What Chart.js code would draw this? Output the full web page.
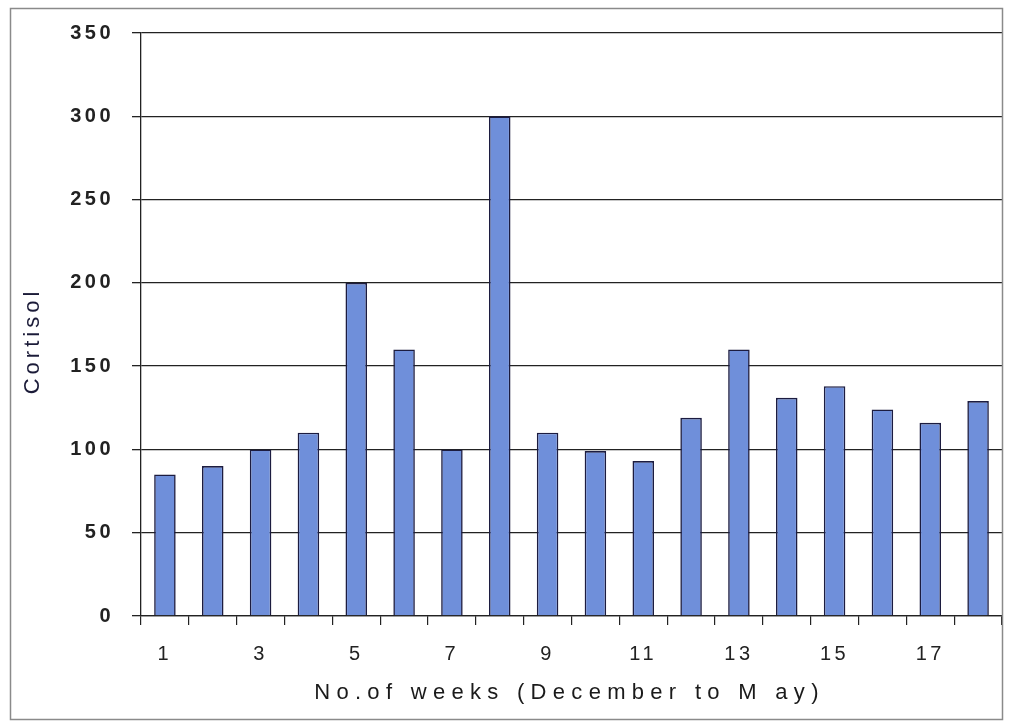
<!DOCTYPE html>
<html>
<head>
<meta charset="utf-8">
<script src="https://cdn.jsdelivr.net/npm/chart.js@4/dist/chart.umd.min.js"></script>
<style>
  html, body { margin: 0; padding: 0; background: #ffffff; }
  #wrap { position: relative; width: 1014px; height: 721px; }
</style>
</head>
<body>
<div id="wrap"><canvas id="c" width="1014" height="721"></canvas></div>
<script>
// Weekly cortisol readings, December to May
const weeks = ['1','2','3','4','5','6','7','8','9','10','11','12','13','14','15','16','17','18'];
const cortisol = [85, 90, 100, 110, 200, 160, 100, 300, 110, 99, 93, 119, 160, 131, 138, 124, 116, 129];
const yTicks = [0, 50, 100, 150, 200, 250, 300, 350];
const xTitle = 'No.of weeks (December to M ay)';
const yTitle = 'Cortisol';

// Outer frame plus letter-spaced axis titles
const framePlugin = {
  id: 'frameAndTitles',
  beforeDraw(chart) {
    const ctx = chart.ctx;
    ctx.save();
    ctx.fillStyle = '#ffffff';
    ctx.fillRect(0, 0, chart.width, chart.height);
    ctx.restore();
    ctx.letterSpacing = '3.5px';
  },
  afterDraw(chart) {
    const ctx = chart.ctx;
    const area = chart.chartArea;
    ctx.save();
    ctx.strokeStyle = '#8a8a8a';
    ctx.lineWidth = 1.5;
    ctx.strokeRect(10.5, 8.5, 992, 711);

    ctx.fillStyle = '#1a1a1a';
    ctx.font = '22px "Liberation Sans", Arial, sans-serif';
    ctx.letterSpacing = '6.3px';
    ctx.textAlign = 'center';
    ctx.textBaseline = 'middle';
    ctx.fillText(xTitle, (area.left + area.right) / 2 - 2, 693);

    ctx.translate(33, 341);
    ctx.rotate(-Math.PI / 2);
    ctx.fillStyle = '#1b1b38';
    ctx.letterSpacing = '4px';
    ctx.fillText(yTitle, 0, 0);
    ctx.restore();
  }
};

new Chart(document.getElementById('c'), {
  type: 'bar',
  data: {
    labels: weeks,
    datasets: [{
      label: 'Cortisol',
      data: cortisol,
      backgroundColor: '#6f8fda',
      borderColor: '#1c1c40',
      borderWidth: 1.6,
      categoryPercentage: 1.0,
      barPercentage: 0.45
    }]
  },
  options: {
    responsive: false,
    animation: false,
    devicePixelRatio: 1,
    layout: { padding: { left: 10, right: 12, top: 33, bottom: 0 } },
    plugins: {
      legend: { display: false },
      tooltip: { enabled: false }
    },
    scales: {
      x: {
        offset: true,
        grid: {
          offset: true,
          drawOnChartArea: false,
          drawTicks: true,
          tickLength: 9,
          color: '#222222',
          lineWidth: 1.2
        },
        border: { display: true, color: '#222222', width: 1.3 },
        ticks: {
          autoSkip: false,
          maxRotation: 0,
          padding: 17,
          color: '#222222',
          font: { family: '"Liberation Sans", Arial, sans-serif', size: 20 },
          callback: function (v, i) { return i % 2 === 0 ? weeks[i] : ''; }
        },
        afterFit(scale) { scale.height = 721 - 616; }
      },
      y: {
        min: 0,
        max: 350,
        afterBuildTicks(scale) { scale.ticks = yTicks.map(v => ({ value: v })); },
        grid: {
          color: '#222222',
          lineWidth: 1.3,
          drawTicks: true,
          tickLength: 9
        },
        border: { display: true, color: '#222222', width: 1.3 },
        ticks: {
          padding: 18,
          color: '#222222',
          font: { family: '"Liberation Sans", Arial, sans-serif', size: 20, weight: 'bold' }
        },
        afterFit(scale) { scale.width = 141 - 10; }
      }
    }
  },
  plugins: [framePlugin]
});
</script>
</body>
</html>
